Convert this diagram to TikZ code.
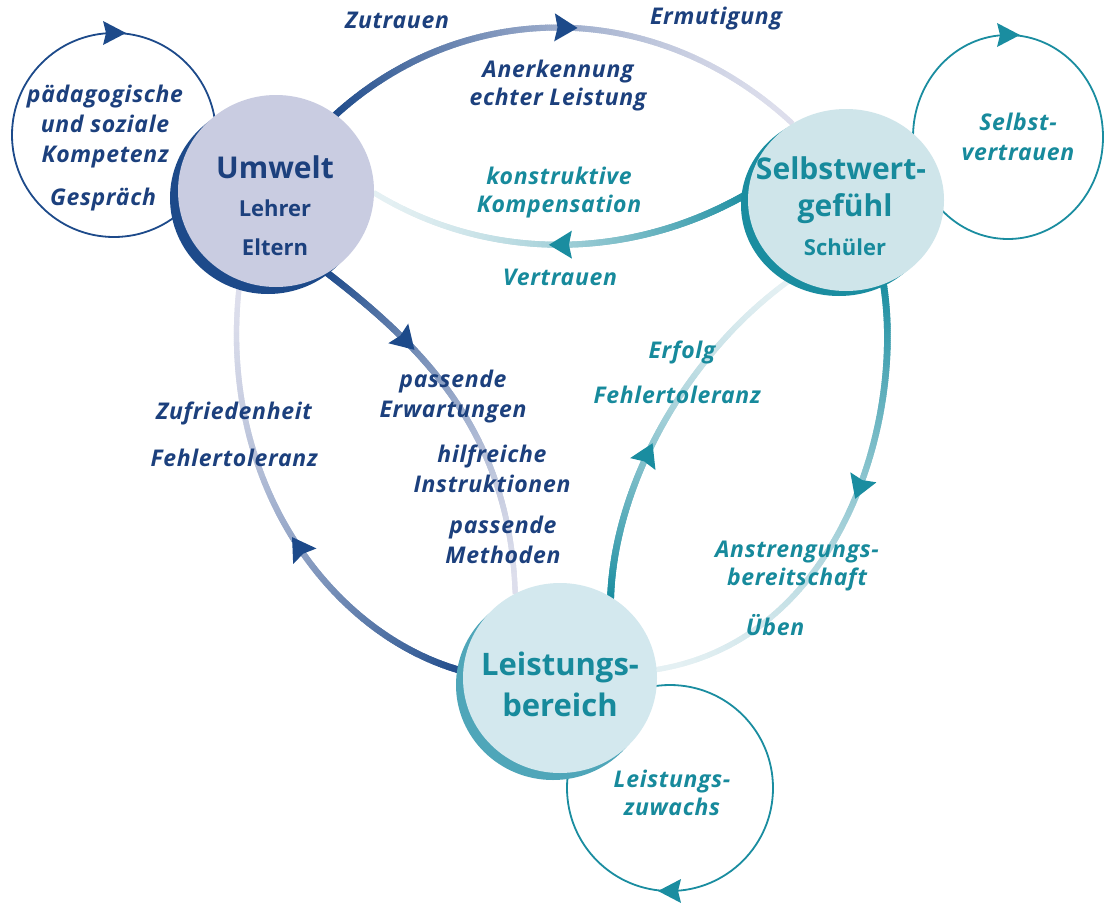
\documentclass[tikz,border=0pt]{standalone}
\usepackage{fontspec}
\setmainfont{Open Sans}
\newfontfamily\lblfont[LetterSpace=3]{Open Sans}
\usetikzlibrary{decorations.markings,shapes.geometric}
\pgfdeclarelayer{bg}
\pgfsetlayers{bg,main}
\definecolor{navy}{HTML}{1D4A8A}
\definecolor{navytxt}{HTML}{1C407D}
\definecolor{tealc}{HTML}{1A8DA0}
\definecolor{tealtxt}{HTML}{178A9C}
\definecolor{lav}{HTML}{DDDEEC}
\definecolor{lteal}{HTML}{E4F0F3}
\definecolor{ufill}{HTML}{C9CCE1}
\definecolor{sfill}{HTML}{CFE5EA}
\definecolor{lfill}{HTML}{D3E8EE}
\definecolor{lcres}{HTML}{4FA6B9}
\tikzset{
  gradline/.style n args={3}{postaction={decorate,decoration={markings,
    mark=between positions 0 and 1 step 0.004 with {%
      \pgfmathsetmacro\gs{0.004*(\pgfkeysvalueof{/pgf/decoration/mark info/sequence number}-1)}%
      \pgfmathtruncatemacro\gt{100*(max(0.001,1-\gs))^1.6}%
      \pgfmathsetmacro\gw{#3*(1-0.25*\gs)}%
      \fill[#1!\gt!#2] (-1.7pt,-\gw pt) rectangle (1.7pt,\gw pt);}}}},
  arrowat/.style 2 args={postaction={decorate,decoration={markings,
    mark=at position #1 with {\fill[#2] (12pt,0pt) -- (-11pt,14pt) -- (-8pt,0pt) -- (-11pt,-14pt) -- cycle;}}}},
  bubble/.style={ellipse, inner sep=0pt, outer sep=0pt},
  loopring/.style={ellipse, inner sep=0pt, outer sep=0pt, line width=1.8pt},
  lbl/.style={font=\lblfont\fontsize{23}{28}\selectfont\bfseries\itshape, inner sep=0pt, align=center},
  lblw/.style={font=\lblfont\fontsize{23}{30}\selectfont\bfseries\itshape, inner sep=0pt, align=center},
  bigtxt/.style={font=\fontsize{30}{34}\selectfont\bfseries, inner sep=0pt},
  subtxt/.style={font=\fontsize{22}{26}\selectfont\bfseries, inner sep=0pt},
}
\begin{document}
\begin{tikzpicture}[x=1pt,y=-1pt]
\useasboundingbox (0,0) rectangle (1105,902);
% bubbles
\node[bubble, fill=navy, minimum width=196pt, minimum height=192pt] (Ush) at (268,198) {};
\node[bubble, fill=ufill, minimum width=196pt, minimum height=192pt] (U) at (276,191) {};
\node[bubble, fill=tealc, minimum width=196pt, minimum height=182pt] (Ssh) at (839,205) {};
\node[bubble, fill=sfill, minimum width=196pt, minimum height=182pt] (S) at (846,200) {};
\node[bubble, fill=lcres, minimum width=194pt, minimum height=190pt] (Lsh) at (553,685) {};
\node[bubble, fill=lfill, minimum width=194pt, minimum height=190pt] (L) at (560,678) {};
\begin{pgfonlayer}{bg}
\fill[white] (0,0) rectangle (1105,902);
% self loops
\node[loopring, draw=navy, minimum width=204pt, minimum height=204pt] (loopL) at (114,135) {};
\node[loopring, draw=tealc, minimum width=190pt, minimum height=204pt] (loopR) at (1008,137) {};
\node[loopring, draw=tealc, minimum width=206pt, minimum height=206pt] (loopB) at (670,788) {};
\fill[navy, shift={(loopL.north)}] (12pt,0pt) -- (-11pt,12pt) -- (-8pt,0pt) -- (-11pt,-12pt) -- cycle;
\fill[tealc, shift={(loopR.north)}] (12pt,0pt) -- (-11pt,12pt) -- (-8pt,0pt) -- (-11pt,-12pt) -- cycle;
\fill[tealc, shift={(loopB.south)}, rotate=180] (12pt,0pt) -- (-11pt,12pt) -- (-8pt,0pt) -- (-11pt,-12pt) -- cycle;
% connectors
\path[gradline={navy}{lav}{3.4}, arrowat={0.5}{navy}] (U.52) .. controls (464,-2) and (655,-4) .. (S.125);
\path[gradline={tealc}{lteal}{3.4}, arrowat={0.5}{tealc}] (S.176) .. controls (629,262) and (487,262) .. (U.-1);
\path[gradline={navy}{lav}{3.4}, arrowat={0.27}{navy}] (U.-58) .. controls (420,345) and (510,430) .. (L.118);
\path[gradline={navy}{lav}{3.4}, arrowat={0.43}{navy}] (L.176) .. controls (330,635) and (215,480) .. (U.-112);
\path[gradline={tealc}{lteal}{3.4}, arrowat={0.42}{tealc}] (S.-66) .. controls (905,420) and (840,640) .. (L.5);
\path[gradline={tealc}{lteal}{3.4}, arrowat={0.39}{tealc}] (L.58) .. controls (615,480) and (690,350) .. (S.-124);
\end{pgfonlayer}
% texts
\node[lbl, text=navytxt] (tZu) at (397,20) {Zutrauen};
\node[lbl, text=navytxt] (tEr) at (716,19) {Ermutigung};
\node[lbl, text=navytxt] (tAn) at (558,86) {Anerkennung\\echter Leistung};
\node[lbl, text=tealtxt] (tKo) at (559,193) {konstruktive\\Kompensation};
\node[lbl, text=tealtxt] (tVe) at (560,277) {Vertrauen};
\node[lblw, text=navytxt] (tPa) at (105,127) {pädagogische\\und soziale\\Kompetenz};
\node[lbl, text=navytxt] (tGe) at (103,200) {Gespräch};
\node[bigtxt, text=navytxt] (tUm) at (275,167) {Umwelt};
\node[subtxt, text=navytxt] (tLe) at (275,208) {Lehrer};
\node[subtxt, text=navytxt] (tEl) at (275,247) {Eltern};
\node[bigtxt, text=tealtxt] (tSe) at (841,168) {Selbstwert-};
\node[bigtxt, text=tealtxt] (tGf) at (845,209) {gefühl};
\node[subtxt, text=tealtxt] (tSc) at (845,247) {Schüler};
\node[lblw, text=tealtxt] (tSv) at (1018,137) {Selbst-\\vertrauen};
\node[lblw, text=navytxt] (tPE) at (453,397) {passende\\Erwartungen};
\node[lblw, text=navytxt] (tHI) at (492,469) {hilfreiche\\Instruktionen};
\node[lblw, text=navytxt] (tPM) at (503,540) {passende\\Methoden};
\node[lbl, text=navytxt] (tZf) at (234,413) {Zufriedenheit};
\node[lbl, text=navytxt] (tFl) at (234,458) {Fehlertoleranz};
\node[lbl, text=tealtxt] (tEf) at (682,352) {Erfolg};
\node[lbl, text=tealtxt] (tFr) at (677,395) {Fehlertoleranz};
\node[lbl, text=tealtxt] (tAs) at (797,566) {Anstrengungs-\\bereitschaft};
\node[lbl, text=tealtxt] (tUb) at (775,625) {Üben};
\node[bigtxt, font=\fontsize{31}{36}\selectfont\bfseries, text=tealtxt] (tLb1) at (560,667) {Leistungs-};
\node[bigtxt, font=\fontsize{31}{36}\selectfont\bfseries, text=tealtxt] (tLb2) at (560,705) {bereich};
\node[lbl, text=tealtxt] (tLz) at (672,793) {Leistungs-\\zuwachs};
\end{tikzpicture}
\end{document}
